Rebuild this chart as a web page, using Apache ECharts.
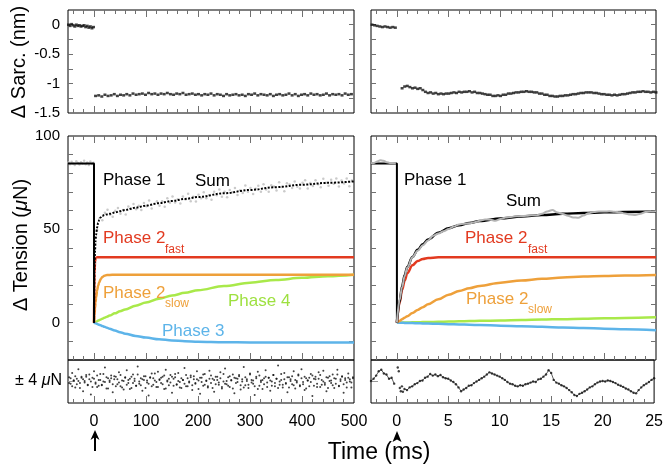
<!DOCTYPE html>
<html><head><meta charset="utf-8">
<script src="https://cdn.jsdelivr.net/npm/echarts@6/dist/echarts.min.js"></script>
<style>html,body{margin:0;padding:0;background:#fff}#c{width:666px;height:464px}</style>
</head><body><div id="c"></div>
<script>
// ---------------- DATA ----------------
// Left panels: time in ms (-50..500); right panels: time in ms (-2.5..25)
const sarcPreL = [[-49,0.0],[-46,-0.02],[-43,0.01],[-40,-0.01],[-37,-0.03],[-34,0.0],[-31,-0.02],[-28,-0.01],[-25,-0.03],[-22,-0.02],[-19,-0.01],[-16,-0.04],[-13,-0.02],[-10,-0.05],[-7,-0.03],[-4,-0.06],[-1,-0.04]];
const sarcPostLX = [3,9,15,21,27,33,39,45,51,57,63,69,75,81,87,93,99,105,111,117,123,129,135,141,147,153,159,165,171,177,183,189,195,201,207,213,219,225,231,237,243,249,255,261,267,273,279,285,291,297,303,309,315,321,327,333,339,345,351,357,363,369,375,381,387,393,399,405,411,417,423,429,435,441,447,453,459,465,471,477,483,489,495];
const sarcPostLY = [-1.21,-1.20,-1.22,-1.19,-1.21,-1.20,-1.18,-1.21,-1.19,-1.20,
 -1.18,-1.20,-1.17,-1.19,-1.18,-1.17,-1.19,-1.16,-1.18,-1.17,
 -1.19,-1.17,-1.18,-1.16,-1.18,-1.19,-1.17,-1.18,-1.16,-1.19,
 -1.18,-1.17,-1.19,-1.18,-1.20,-1.18,-1.19,-1.17,-1.20,-1.18,
 -1.19,-1.21,-1.18,-1.20,-1.19,-1.18,-1.20,-1.19,-1.21,-1.18,
 -1.19,-1.17,-1.20,-1.18,-1.19,-1.20,-1.18,-1.21,-1.19,-1.18,
 -1.20,-1.19,-1.17,-1.20,-1.18,-1.21,-1.19,-1.18,-1.20,-1.17,
 -1.19,-1.18,-1.20,-1.19,-1.17,-1.20,-1.18,-1.19,-1.18,-1.20,
 -1.17,-1.19,-1.18];
const sarcPreR = [[-2.4,0.0],[-2.15,-0.01],[-1.9,-0.02],[-1.65,-0.03],[-1.4,-0.04],[-1.15,-0.03],[-0.9,-0.04],[-0.65,-0.05],[-0.4,-0.04],[-0.15,-0.05]];
const sarcPostR = [[0.5,-1.08],[0.75,-1.05],[1.0,-1.04],[1.25,-1.06],[1.5,-1.08],[1.75,-1.07],[2.0,-1.09],[2.25,-1.08],[2.5,-1.11],[2.75,-1.14],[3.0,-1.16],[3.25,-1.15],[3.5,-1.17],[3.75,-1.16],[4.0,-1.18],[4.25,-1.17],[4.5,-1.18],[4.75,-1.17],[5.0,-1.17],[5.25,-1.16],[5.5,-1.15],[5.75,-1.16],[6.0,-1.14],[6.25,-1.15],[6.5,-1.14],[6.75,-1.14],[7.0,-1.13],[7.25,-1.15],[7.5,-1.14],[7.75,-1.16],[8.0,-1.16],[8.25,-1.17],[8.5,-1.18],[8.75,-1.19],[9.0,-1.19],[9.25,-1.21],[9.5,-1.21],[9.75,-1.20],[10.0,-1.21],[10.25,-1.19],[10.5,-1.19],[10.75,-1.17],[11.0,-1.17],[11.25,-1.16],[11.5,-1.15],[11.75,-1.15],[12.0,-1.14],[12.25,-1.14],[12.5,-1.13],[12.75,-1.14],[13.0,-1.14],[13.25,-1.15],[13.5,-1.15],[13.75,-1.17],[14.0,-1.17],[14.25,-1.19],[14.5,-1.19],[14.75,-1.21],[15.0,-1.21],[15.25,-1.22],[15.5,-1.22],[15.75,-1.21],[16.0,-1.21],[16.25,-1.20],[16.5,-1.20],[16.75,-1.19],[17.0,-1.18],[17.25,-1.18],[17.5,-1.17],[17.75,-1.16],[18.0,-1.16],[18.25,-1.15],[18.5,-1.15],[18.75,-1.15],[19.0,-1.16],[19.25,-1.16],[19.5,-1.17],[19.75,-1.18],[20.0,-1.18],[20.25,-1.19],[20.5,-1.19],[20.75,-1.20],[21.0,-1.19],[21.25,-1.20],[21.5,-1.19],[21.75,-1.18],[22.0,-1.18],[22.25,-1.17],[22.5,-1.16],[22.75,-1.15],[23.0,-1.15],[23.25,-1.14],[23.5,-1.14],[23.75,-1.13],[24.0,-1.14],[24.25,-1.14],[24.5,-1.15],[24.75,-1.14],[25.0,-1.15]];

// Tension, left (0..500 ms)
const tL = [0,1,2,3,4,6,8,10,13,16,20,25,30,40,50,60,80,100,125,150,175,200,250,300,350,400,450,500];
const phase2fastL = [0,26.6,32.8,34.3,34.8,35.0,35.1,35.1,35.1,35.1,35.1,35.1,35.1,35.1,35.1,35.1,35.1,35.1,35.1,35.1,35.1,35.1,35.1,35.1,35.1,35.1,35.1,35.1];
const phase2slowL = [0,4.3,7.9,10.9,13.4,17.3,19.9,21.6,23.4,24.5,25.1,25.5,25.6,25.7,25.7,25.7,25.7,25.7,25.7,25.7,25.7,25.7,25.7,25.7,25.7,25.7,25.7,25.7];
const phase4L = [0,0.15,0.3,0.4,0.55,0.8,1.1,1.35,1.75,2.1,2.6,3.2,3.8,5.0,6.1,7.1,9.1,10.8,12.8,14.5,16.0,17.4,19.6,21.4,22.9,24.0,24.9,25.7];
const phase3L = [0,-0.12,-0.24,-0.36,-0.48,-0.7,-0.92,-1.15,-1.45,-1.8,-2.2,-2.75,-3.25,-4.2,-5.1,-5.9,-7.1,-8.0,-8.9,-9.5,-9.9,-10.2,-10.5,-10.6,-10.6,-10.6,-10.6,-10.6];
const sumL = [0,30,39,44,47,51,53.5,55,56.5,57.2,57.7,58.0,58.3,59.0,59.7,60.4,61.6,62.7,64.0,65.2,66.3,67.3,69.3,71.1,72.6,73.9,74.9,75.7];
const stepL = [[-50,85.3],[0,85.3],[0,0]];
const dataPreL = [[-49,85.9],[-46,84.8],[-43,86.2],[-40,85.1],[-37,84.4],[-34,86.5],[-31,85.6],[-28,84.7],[-25,86.0],[-22,85.2],[-19,86.7],[-16,84.9],[-13,85.8],[-10,84.5],[-7,86.3],[-4,85.0],[-1,85.7]];
const dataPostL = [[1,31.8],[6,49.8],[11,56.0],[16,54.9],[21,58.9],[26,60.5],[31,57.8],[36,56.8],[41,60.0],[46,61.4],
 [51,58.3],[56,60.4],[61,57.9],[66,62.2],[71,60.9],[76,63.6],[81,60.7],[86,62.7],[91,60.4],[96,64.1],
 [101,62.4],[106,65.5],[111,61.2],[116,63.7],[121,65.1],[126,62.6],[131,65.1],[136,62.1],[141,66.7],[146,64.3],
 [151,67.6],[156,64.4],[161,66.1],[166,63.9],[171,67.6],[176,66.0],[181,69.1],[186,65.1],[191,67.5],[196,64.9],
 [201,68.5],[206,66.7],[211,69.8],[216,66.6],[221,68.2],[226,65.8],[231,70.2],[236,68.2],[241,71.3],[246,67.4],
 [251,70.2],[256,67.2],[261,71.1],[266,69.8],[271,72.1],[276,68.4],[281,70.9],[286,69.4],[291,73.5],[296,70.1],
 [301,72.2],[306,68.9],[311,71.7],[316,73.4],[321,70.2],[326,74.1],[331,71.4],[336,70.1],[341,73.6],[346,72.9],
 [351,70.8],[356,75.2],[361,72.7],[366,70.4],[371,74.7],[376,74.0],[381,72.1],[386,75.6],[391,72.8],[396,71.9],
 [401,74.9],[406,76.3],[411,71.9],[416,74.8],[421,73.2],[426,76.3],[431,74.1],[436,72.6],[441,77.1],[446,75.0],
 [451,73.3],[456,76.5],[461,74.4],[466,77.2],[471,73.0],[476,76.2],[481,74.5],[486,77.2],[491,73.1],[496,76.2]];

// Tension, right (0..25 ms)
const tR = [0,0.25,0.5,0.75,1,1.5,2,2.5,3,4,5,6,7,8,10,12,14,16,18,20,22,25];
const phase2fastR = [0,10.5,17.5,22.5,26.5,30.8,33.0,34.1,34.6,35.0,35.1,35.1,35.1,35.1,35.1,35.1,35.1,35.1,35.1,35.1,35.1,35.1];
const phase2slowR = [0,0.9,1.8,2.7,3.5,5.2,6.8,8.3,9.8,12.5,15.0,17.0,18.5,19.7,21.4,22.6,23.5,24.2,24.7,25.0,25.3,25.6];
const phase4R = [0,0.03,0.06,0.09,0.12,0.18,0.24,0.3,0.36,0.48,0.6,0.72,0.84,0.96,1.2,1.43,1.65,1.88,2.1,2.32,2.53,2.85];
const phase3R = [0,-0.04,-0.08,-0.12,-0.16,-0.24,-0.32,-0.4,-0.48,-0.64,-0.8,-0.96,-1.12,-1.28,-1.6,-1.92,-2.23,-2.55,-2.87,-3.2,-3.52,-4.05];
const sumR = [0,11,19.5,25.5,29.8,35.2,39.0,42.0,44.5,48.2,50.6,52.2,53.4,54.4,55.8,56.9,57.7,58.3,58.8,59.1,59.3,59.5];
const stepR = [[-2.5,85.3],[0,85.3],[0,0]];
const dataPreR = [[-2.5,85.4],[-2.2,85.6],[-1.9,86.3],[-1.6,87.0],[-1.3,86.8],[-1.0,86.0],[-0.7,85.6],[-0.4,85.5],[-0.1,85.4]];
const dataPostR = [[0,0],[0.25,12],[0.5,19],[0.75,25],[1,29.5],[1.5,35],[2,38.5],[2.5,41.5],[3,44],[3.5,46.5],[4,47.8],[4.5,49],[5,50.2],[5.5,51.5],[6,52.6],[6.5,53],[7,53.2],[7.5,53.8],[8,54.6],[8.5,55.3],[9,55.2],[9.5,54.6],[10,55.6],[10.5,56.3],[11,56.6],[11.5,57.0],[12,57.1],[12.5,57.3],[13,57.6],[13.5,57.6],[14,58.3],[14.5,59.6],[15,60.3],[15.5,59.0],[16,58.2],[16.5,57.3],[17,56.4],[17.5,56.2],[18,57.4],[18.5,58.6],[19,59.3],[19.5,59.6],[20,59.5],[20.5,59.7],[21,59.4],[21.5,59.2],[22,58.5],[22.5,57.9],[23,57.7],[23.5,58.3],[24,59.3],[24.5,59.6],[25,59.7]];

// Residuals (μN)
const residLX = [-48,-45,-42,-39,-36,-33,-30,-27,-24,-21,-18,-15,-12,-9,-6,-3,
 0,3,6,9,12,15,18,21,24,27,30,33,36,39,42,45,48,51,54,57,
 60,63,66,69,72,75,78,81,84,87,90,93,96,99,
 102,105,108,111,114,117,120,123,126,129,132,135,138,141,144,147,150,153,156,159,
 162,165,168,171,174,177,180,183,186,189,192,195,198,
 201,204,207,210,213,216,219,222,225,228,231,234,237,240,243,246,249,252,255,258,261,264,267,270,273,276,279,282,285,288,291,294,297,
 300,303,306,309,312,315,318,321,324,327,330,333,336,339,342,345,348,351,354,357,360,363,366,369,372,375,378,381,384,387,390,393,396,399,
 402,405,408,411,414,417,420,423,426,429,432,435,438,441,444,447,450,453,456,459,462,465,468,471,474,477,480,483,486,489,492,495,498];
const residLY = [0.8,-0.4,1.6,0.2,-1.1,0.5,2.3,-0.3,0.9,-1.8,0.1,1.2,-0.6,0.4,-2.4,0.7,1.9,-0.2,-1.0,0.3,
 1.4,-0.7,0.0,2.6,-1.3,0.6,-0.1,1.1,-2.0,0.4,0.9,-0.5,1.7,-0.9,0.2,-1.5,0.8,2.1,-0.3,0.5,
 -1.2,1.3,0.1,-0.8,2.8,-0.4,0.6,-1.7,0.3,1.0,-0.2,-2.6,0.7,1.5,-0.6,0.2,-1.0,1.8,0.4,-0.3,
 0.9,-1.4,2.2,0.0,-0.7,1.2,-2.1,0.5,0.8,-0.5,1.6,-0.1,-1.2,0.3,2.5,-0.9,0.6,-0.2,1.1,-1.6,
 0.4,-0.4,1.9,0.2,-2.3,0.7,-0.8,1.4,0.1,-1.1,2.0,-0.3,0.5,-1.9,0.9,0.3,-0.6,1.7,-1.3,0.0,
 2.4,-0.5,0.8,-1.0,0.2,1.3,-2.2,0.6,-0.1,1.0,-1.5,0.4,2.7,-0.7,0.1,-1.2,1.5,0.3,-0.4,-2.5,
 0.9,1.8,-0.8,0.2,-1.4,0.6,2.1,-0.2,0.7,-1.7,0.0,1.2,-0.9,0.5,3.0,-0.6,0.3,-1.1,1.6,-0.3,
 -2.0,0.8,0.4,-0.5,1.9,-1.3,0.1,1.1,-0.7,2.3,-0.1,-1.6,0.6,0.2,-0.9,1.4,-2.7,0.5,0.9,-0.4,
 1.7,-1.0,0.3,2.0,-0.6,-1.8,0.7,0.1,-0.3,1.3,-1.2,0.5,2.2,-0.8,0.4,1.0,-2.1,0.6,-0.2,1.5,0.0,-1.1,0.8];
const residLY2 = [-0.3,0.6,-0.9,0.2,1.0,-0.5,0.1,-1.2,0.7,0.4,-0.2,0.9,-0.7,1.3,0.0,-1.0,0.5,-0.4,1.1,-0.8,
 0.3,-0.6,1.4,-0.1,0.8,-1.3,0.2,0.6,-0.5,1.0,-0.9,0.4,-0.2,1.2,-1.1,0.1,0.7,-0.6,0.3,-1.4,
 0.9,-0.3,0.5,-0.8,1.3,0.0,-0.7,0.4,1.0,-1.2,0.2,-0.4,0.8,-0.9,0.6,1.5,-0.1,-1.0,0.3,0.7,
 -0.5,1.1,-1.3,0.2,0.5,-0.2,0.9,-0.8,1.4,-0.6,0.1,-1.1,0.6,0.3,-0.4,1.2,-0.9,0.0,0.8,-0.7,
 1.0,-0.3,0.4,-1.4,0.7,-0.1,1.3,-0.6,0.2,-0.9,0.5,1.1,-1.2,0.3,-0.5,0.9,-0.2,0.6,-1.0,1.4,
 -0.4,0.1,-0.8,1.0,0.3,-1.3,0.7,-0.3,0.5,1.2,-0.7,0.0,-1.1,0.8,0.4,-0.6,1.3,-0.2,0.2,-0.9,
 0.6,-1.4,1.1,-0.1,0.3,-0.5,0.9,-1.0,0.7,0.2,-0.8,1.2,-0.3,0.5,-1.2,0.0,1.4,-0.6,0.4,-0.4,
 0.8,-1.1,0.1,1.0,-0.7,0.3,-0.2,1.3,-0.9,0.6,-0.5,0.9,-1.3,0.2,0.7,-0.1,1.1,-0.8,0.4,-1.0,
 0.5,1.2,-0.6,0.0,-0.3,0.8,-1.2,1.0,0.2,-0.7,0.6,-0.4,1.3,-0.9,0.1,0.9,-0.5,0.3,-1.1,0.7,0.4,-0.2,0.6];
const residRpre = [[-2.5,0.1],[-2.25,0.5],[-2.0,1.1],[-1.75,1.9],[-1.5,2.2],[-1.25,1.5],[-1.0,1.3],[-0.75,0.5],[-0.5,0.7],[-0.25,-0.4]];
const residRstep = [[0.1,2.6],[0.2,1.9],[0.3,-1.2],[0.4,-1.8],[0.5,-0.9],[0.6,-1.9]];
const residRpost = [[0.75,-1.4],[1.0,-1.6],[1.25,-1.1],[1.5,-0.9],[1.75,-0.5],[2.0,-0.3],[2.25,0.1],[2.5,0.2],[2.75,0.7],[3.0,0.9],[3.25,1.4],[3.5,1.1],[3.75,1.3],[4.0,1.0],[4.25,1.2],[4.5,0.8],[4.75,0.6],[5.0,0.5],[5.25,0.2],[5.5,-0.1],[5.75,-0.5],[6.0,-1.1],[6.25,-1.8],[6.5,-1.5],[6.75,-1.2],[7.0,-0.8],[7.25,-0.7],[7.5,-0.3],[7.75,0.0],[8.0,0.3],[8.25,0.6],[8.5,0.9],[8.75,1.3],[9.0,1.7],[9.25,1.5],[9.5,1.3],[9.75,1.1],[10.0,0.9],[10.25,0.6],[10.5,0.3],[10.75,-0.1],[11.0,-0.4],[11.25,-0.5],[11.5,-0.8],[11.75,-0.9],[12.0,-0.7],[12.25,-0.8],[12.5,-0.5],[12.75,-0.4],[13.0,-0.2],[13.25,0.0],[13.5,-0.1],[13.75,0.4],[14.0,0.5],[14.25,0.9],[14.5,1.3],[14.75,2.1],[15.0,1.6],[15.25,0.3],[15.5,-0.2],[15.75,-0.4],[16.0,-0.7],[16.25,-0.9],[16.5,-1.2],[16.75,-1.6],[17.0,-2.0],[17.25,-2.5],[17.5,-2.7],[17.75,-2.3],[18.0,-2.1],[18.25,-1.8],[18.5,-1.5],[18.75,-1.1],[19.0,-0.9],[19.25,-0.5],[19.5,-0.2],[19.75,0.0],[20.0,0.1],[20.25,0.0],[20.5,0.2],[20.75,0.1],[21.0,-0.1],[21.25,-0.3],[21.5,-0.6],[21.75,-0.8],[22.0,-1.0],[22.25,-1.3],[22.5,-1.5],[22.75,-1.8],[23.0,-2.1],[23.25,-2.2],[23.5,-1.6],[23.75,-1.1],[24.0,-0.7],[24.25,-0.4],[24.5,-0.1],[24.75,0.3],[25.0,0.6]];

// Tick values / labels
const xMajorL = [0,100,200,300,400];
const xMinorL = [-40,-20,20,40,60,80,120,140,160,180,220,240,260,280,320,340,360,380,420,440,460,480];
const xLabelsL = [0,100,200,300,400,500];
const xMajorR = [0,5,10,15,20];
const xMinorR = [-2,-1,1,2,3,4,6,7,8,9,11,12,13,14,16,17,18,19,21,22,23,24];
const xLabelsR = [0,5,10,15,20,25];
const ySarcTicks = [-1.25,-1,-0.75,-0.5,-0.25,0];
const ySarcLabels = [0,-0.5,-1,-1.5];
const yTensTicks = [-10,0,10,20,30,40,50,60,70,80,90];
const yTensLabels = [0,50,100];
const yResTicks = [0];

// ---------------- CHART ----------------
const FONT = '"Liberation Sans", Arial, Helvetica, sans-serif';
const RED = '#e23a20', ORANGE = '#eea03a', GREEN = '#a9e94a', BLUE = '#5db4e9';
const TICK = '#707070';
const zip = (xs, ys) => xs.slice(0, Math.min(xs.length, ys.length)).map((x, i) => [x, ys[i]]);

const grids = [
  {left:68, top:10, width:286, height:103},
  {left:68, top:136, width:286, height:224},
  {left:68, top:360, width:286, height:43},
  {left:371, top:10, width:285, height:103},
  {left:371, top:136, width:285, height:224},
  {left:371, top:360, width:285, height:43}
].map(g => Object.assign({show:true, borderColor:'#000', borderWidth:1, backgroundColor:'transparent', containLabel:false}, g));

const xAxes = [], yAxes = [];
const mainX = {}, mainY = {};
function addX(gi, min, max, ticks, len, pos, labels) {
  xAxes.push({type:'value', gridIndex:gi, min:min, max:max, position:pos,
    axisLine:{show:false, onZero:false}, splitLine:{show:false},
    axisTick:{show:true, inside:true, length:len, customValues:ticks, lineStyle:{color:TICK, width:1}},
    axisLabel: labels ? {show:true, customValues:labels, margin:11, fontSize:16, fontFamily:FONT, color:'#000'} : {show:false}});
  const idx = xAxes.length - 1;
  if (mainX[gi] === undefined) mainX[gi] = idx;
  return idx;
}
function addY(gi, min, max, ticks, len, pos, labels, col) {
  yAxes.push({type:'value', gridIndex:gi, min:min, max:max, position:pos,
    axisLine:{show:false, onZero:false}, splitLine:{show:false},
    axisTick:{show:true, inside:true, length:len, customValues:ticks, lineStyle:{color:col || TICK, width:1}},
    axisLabel: labels ? {show:true, customValues:labels, margin:8, fontSize:15, fontFamily:FONT, color:'#000'} : {show:false}});
  const idx = yAxes.length - 1;
  if (mainY[gi] === undefined) mainY[gi] = idx;
  return idx;
}
// left column
[0,1].forEach(gi => {
  addX(gi, -50, 500, xMajorL, 7, 'bottom');
  addX(gi, -50, 500, xMinorL, 4, 'bottom');
  addX(gi, -50, 500, xMajorL, 7, 'top');
  addX(gi, -50, 500, xMinorL, 4, 'top');
});
addX(2, -50, 500, xMajorL, 7, 'bottom', xLabelsL);
addX(2, -50, 500, xMinorL, 4, 'bottom');
// right column
[3,4].forEach(gi => {
  addX(gi, -2.5, 25, xMajorR, 7, 'bottom');
  addX(gi, -2.5, 25, xMinorR, 4, 'bottom');
  addX(gi, -2.5, 25, xMajorR, 7, 'top');
  addX(gi, -2.5, 25, xMinorR, 4, 'top');
});
addX(5, -2.5, 25, xMajorR, 7, 'bottom', xLabelsR);
addX(5, -2.5, 25, xMinorR, 4, 'bottom');
// y axes
addY(0, -1.5, 0.25, ySarcTicks, 5, 'left', ySarcLabels);
addY(0, -1.5, 0.25, ySarcTicks, 5, 'right');
addY(1, -20, 100, yTensTicks, 5, 'left', yTensLabels);
addY(1, -20, 100, yTensTicks, 5, 'right');
addY(2, -4, 4, yResTicks, 7, 'left', null, '#999');
addY(3, -1.5, 0.25, ySarcTicks, 5, 'left');
addY(3, -1.5, 0.25, ySarcTicks, 5, 'right');
addY(4, -20, 100, yTensTicks, 5, 'left');
addY(4, -20, 100, yTensTicks, 5, 'right');
addY(5, -4, 4, yResTicks, 7, 'left', null, '#999');

const series = [];
function ax(gi) { return {xAxisIndex: mainX[gi], yAxisIndex: mainY[gi]}; }
function line(gi, data, color, width, extra) {
  series.push(Object.assign({type:'line', data:data, showSymbol:false, symbol:'none', silent:true,
    lineStyle:{color:color, width:width}, smooth:0.35, smoothMonotone:'x', z:2}, ax(gi), extra || {}));
}
function dots(gi, data, color, size, extra) {
  series.push(Object.assign({type:'scatter', data:data, symbol:'circle', symbolSize:size, silent:true,
    itemStyle:{color:color}, z:3}, ax(gi), extra || {}));
}
// top: sarcomere
dots(0, sarcPreL, '#111', [3,2.5], {symbol:'rect'});
dots(0, zip(sarcPostLX, sarcPostLY), '#111', [3,2.5], {symbol:'rect'});
dots(3, sarcPreR, '#111', [3,2.5], {symbol:'rect'});
dots(3, sarcPostR, '#111', [3,2.5], {symbol:'rect'});
// middle left
line(1, zip(tL, phase4L), GREEN, 2.5);
line(1, zip(tL, phase3L), BLUE, 2.5);
line(1, zip(tL, phase2slowL), ORANGE, 2.5);
line(1, zip(tL, phase2fastL), RED, 2.5);
dots(1, dataPreL, '#bdbdbd', 2.5);
dots(1, dataPostL, '#bdbdbd', 2.5);
line(1, stepL, '#000', 2, {smooth:false, z:4});
line(1, zip(tL, sumL), '#000', 2, {z:5, lineStyle:{color:'#000', width:2, type:[2,1.5]}});
// middle right
line(4, zip(tR, phase4R), GREEN, 2.5);
line(4, zip(tR, phase3R), BLUE, 2.5);
line(4, zip(tR, phase2slowR), ORANGE, 2.5);
line(4, zip(tR, phase2fastR), RED, 2.5);
line(4, stepR, '#000', 2, {smooth:false, z:4});
line(4, zip(tR, sumR), '#000', 2.5, {z:4});
line(4, dataPreR, '#b4b4b4', 2, {z:5});
line(4, dataPostR, '#b4b4b4', 2, {z:5});
// residuals
dots(2, zip(residLX, residLY), '#111', 2);
dots(2, zip(residLX, residLY2), '#111', 2);
line(5, residRpre, '#333', 0.8, {smooth:false});
line(5, residRpost, '#333', 0.8, {smooth:false});
dots(5, residRpre, '#111', 2.4);
dots(5, residRstep, '#111', 2.4);
dots(5, residRpost, '#111', 2.4);

const txt = (t, x, y, c, s, extra) => Object.assign({type:'text', x:x, y:y, silent:true, z:100,
  style:{text:t, fill:c || '#000', font:(s || 17) + 'px ' + FONT, fontSize:s || 17, fontFamily:FONT,
    textAlign:'left', textVerticalAlign:'middle', align:'left', verticalAlign:'middle'}}, extra || {});
const graphic = [
  txt('Phase 1', 103, 180), txt('Sum', 195, 181),
  txt('Phase 2', 103, 238, RED), txt('fast', 165, 250, RED, 12),
  txt('Phase 2', 103, 293, ORANGE), txt('slow', 165, 304, ORANGE, 12),
  txt('Phase 4', 228, 301, '#9ee040'), txt('Phase 3', 162, 331, BLUE),
  txt('Phase 1', 404, 180), txt('Sum', 506, 201),
  txt('Phase 2', 465, 238, RED), txt('fast', 528, 250, RED, 12),
  txt('Phase 2', 466, 299, ORANGE), txt('slow', 528, 310, ORANGE, 12),
  {type:'text', x:19, y:62, rotation:Math.PI/2, silent:true,
    style:{text:'Δ Sarc. (nm)', fill:'#000', font:'20px ' + FONT, textAlign:'center', textVerticalAlign:'middle', align:'center', verticalAlign:'middle'}},
  {type:'text', x:21, y:245, rotation:Math.PI/2, silent:true,
    style:{text:'Δ Tension ({i|μ}N)', fill:'#000', font:'20px ' + FONT, fontSize:20, fontFamily:FONT, textAlign:'center', textVerticalAlign:'middle', align:'center', verticalAlign:'middle',
      rich:{i:{fontStyle:'italic', fontSize:20, fontFamily:FONT, fill:'#000'}}}},
  {type:'text', x:62, y:381, silent:true,
    style:{text:'± 4 {i|μ}N', fill:'#000', font:'16px ' + FONT, fontSize:16, fontFamily:FONT, textAlign:'right', textVerticalAlign:'middle', align:'right', verticalAlign:'middle',
      rich:{i:{fontStyle:'italic', fontSize:16, fontFamily:FONT, fill:'#000'}}}},
  {type:'text', x:379, y:453, silent:true,
    style:{text:'Time (ms)', fill:'#000', font:'23px ' + FONT, textAlign:'center', textVerticalAlign:'middle', align:'center', verticalAlign:'middle'}},
  {type:'line', silent:true, shape:{x1:95, y1:451, x2:95, y2:436}, style:{stroke:'#000', lineWidth:2}},
  {type:'polygon', silent:true, shape:{points:[[95,430],[90.5,440],[95,437],[99.5,440]]}, style:{fill:'#000'}},
  {type:'polygon', silent:true, shape:{points:[[397,431],[392.5,442],[397,439.5],[401.5,442]]}, style:{fill:'#000'}}
];

const chart = echarts.init(document.getElementById('c'), null, {renderer:'canvas', width:666, height:464});
chart.setOption({animation:false, backgroundColor:'#fff', grid:grids, xAxis:xAxes, yAxis:yAxes, series:series, graphic:graphic});
</script></body></html>
